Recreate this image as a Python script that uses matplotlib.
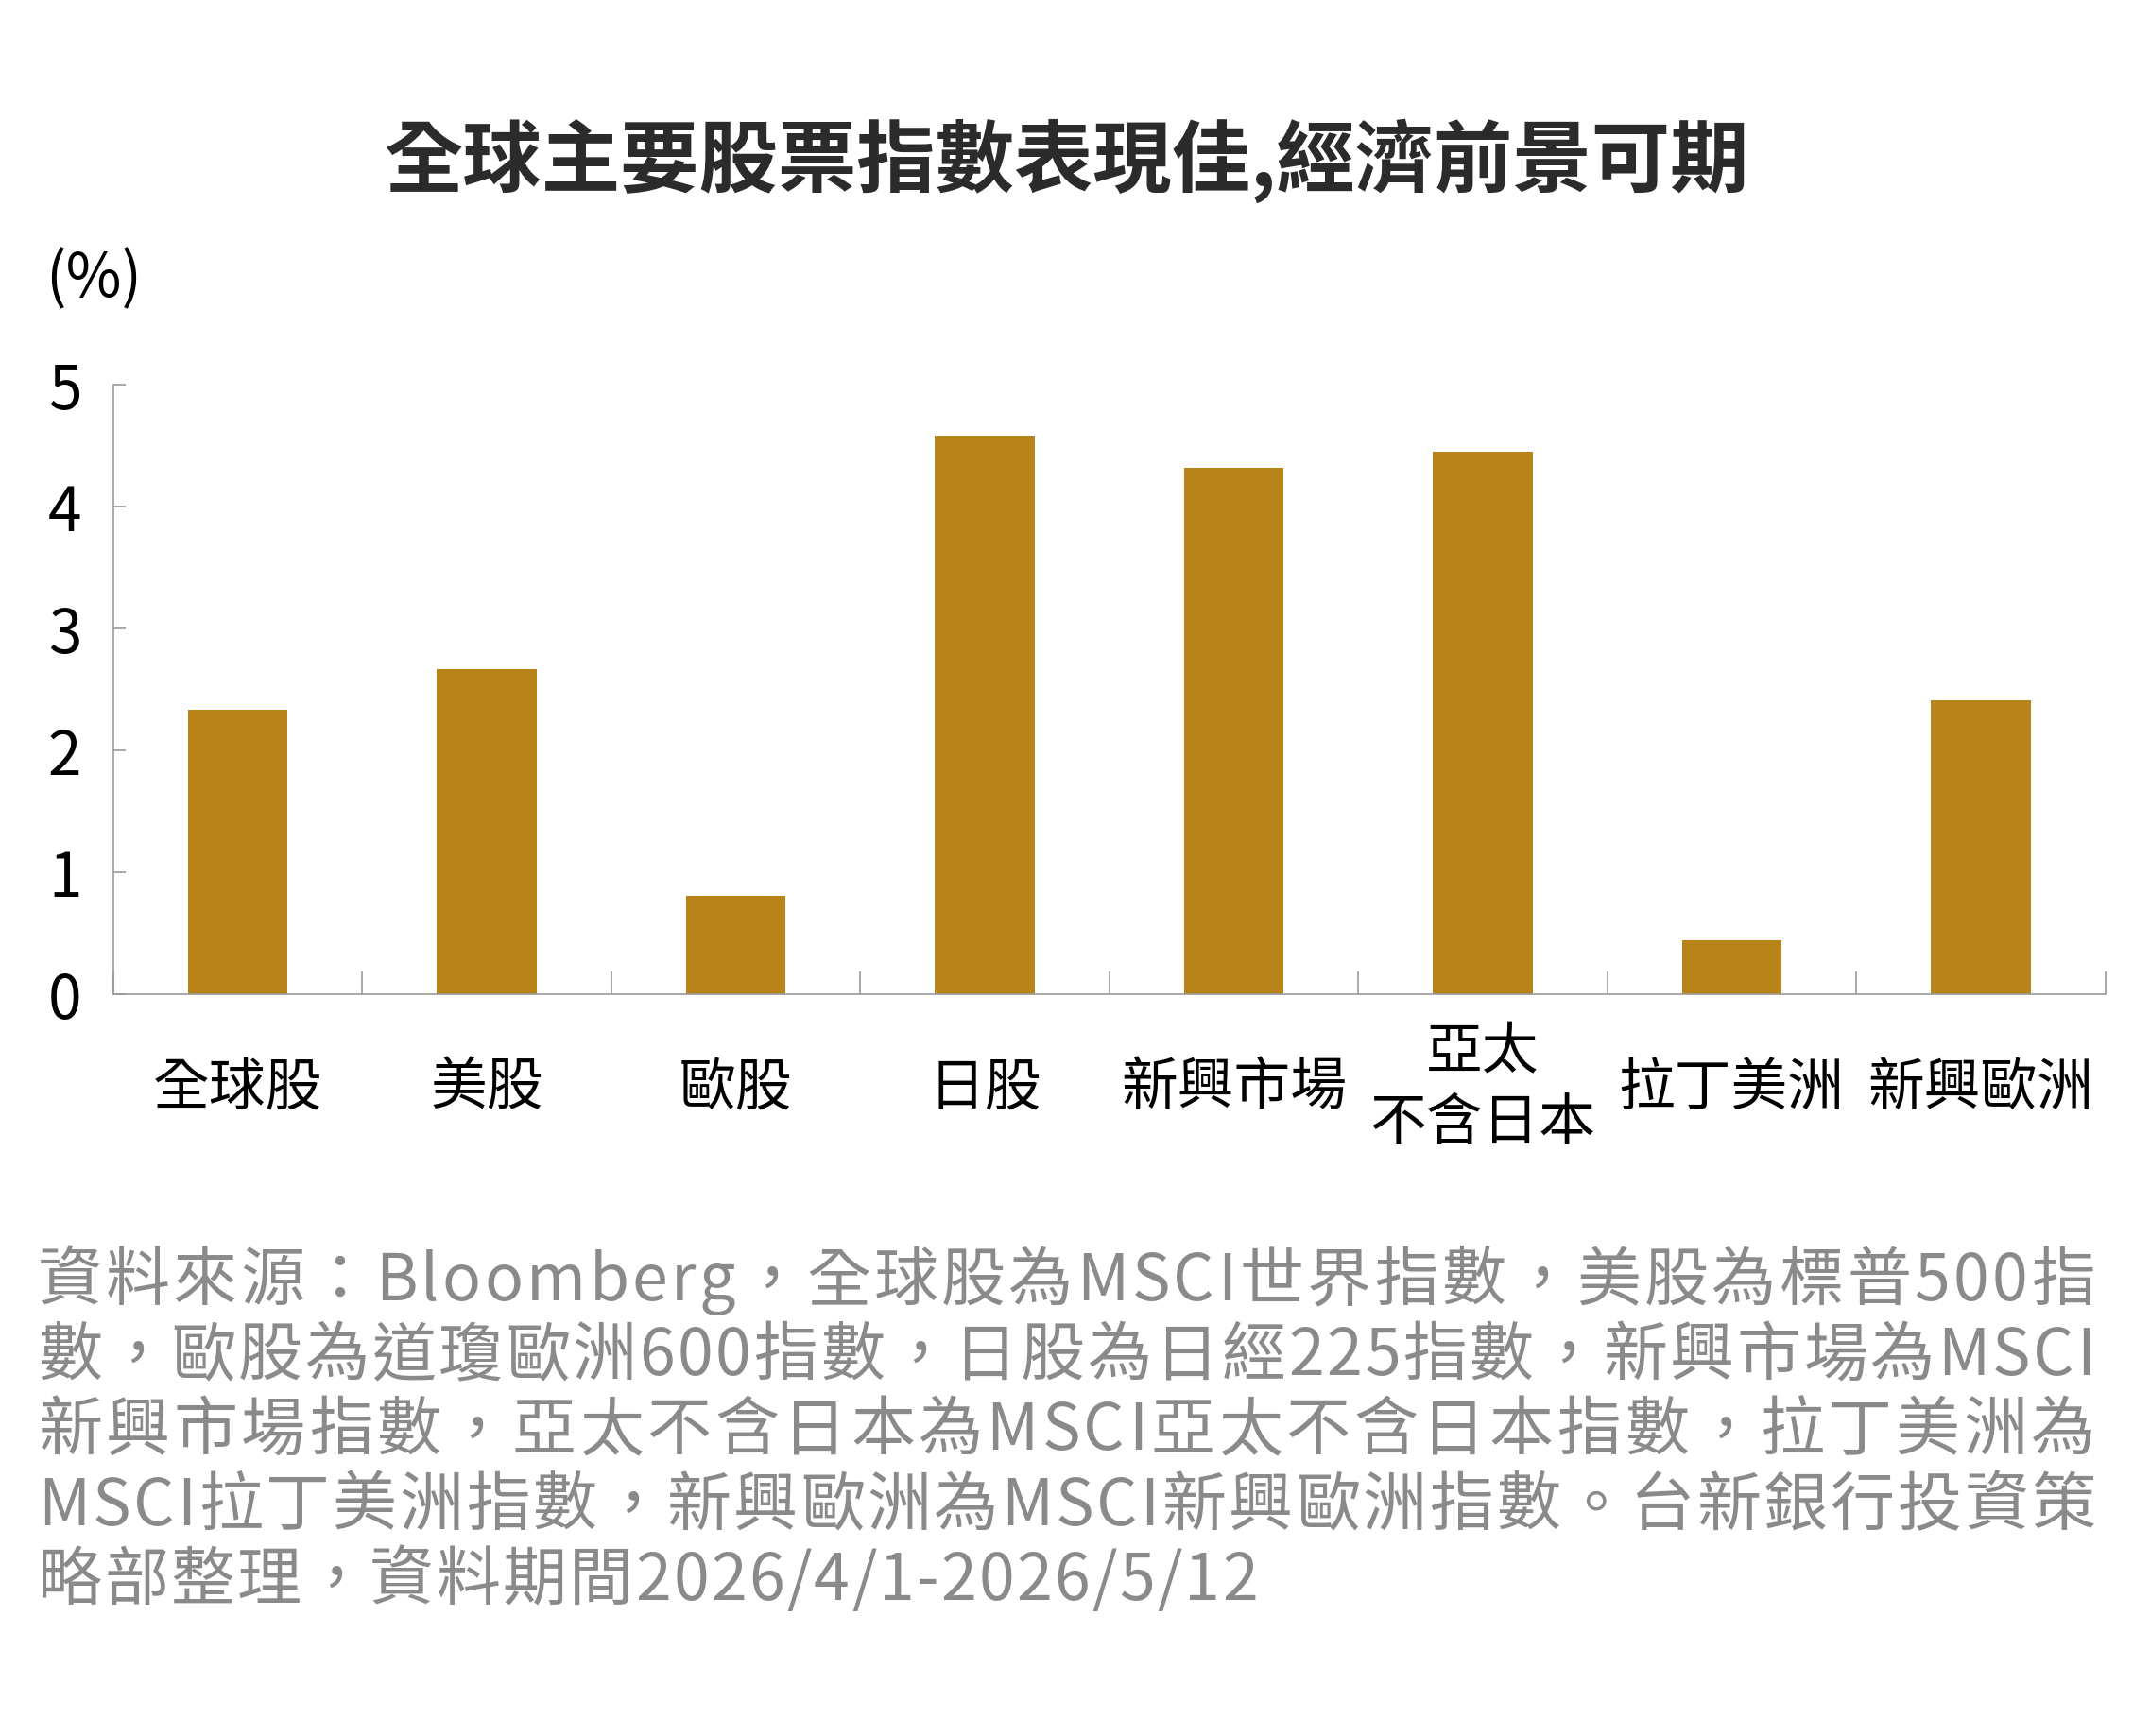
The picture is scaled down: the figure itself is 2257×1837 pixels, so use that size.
import matplotlib
matplotlib.use('Agg')
import matplotlib.pyplot as plt
import numpy as np

plt.rcParams['font.family'] = ['Noto Sans CJK TC', 'DejaVu Sans']

# 資料
categories = ['全球股', '美股', '歐股', '日股', '新興市場', '亞太\n不含日本', '拉丁美洲', '新興歐洲']
values = [2.33, 2.67, 0.81, 4.58, 4.32, 4.45, 0.44, 2.41]
yticks = [0, 1, 2, 3, 4, 5]

title = '全球主要股票指數表現佳,經濟前景可期'
unit = '(%)'
footer_lines = [
    '資料來源：Bloomberg，全球股為MSCI世界指數，美股為標普500指',
    '數，歐股為道瓊歐洲600指數，日股為日經225指數，新興市場為MSCI',
    '新興市場指數，亞太不含日本為MSCI亞太不含日本指數，拉丁美洲為',
    'MSCI拉丁美洲指數，新興歐洲為MSCI新興歐洲指數。台新銀行投資策',
    '略部整理，資料期間2026/4/1-2026/5/12',
]

bar_color = '#b8841a'
axis_color = '#999999'
W, H = 2257, 1837

fig = plt.figure(figsize=(W / 100, H / 100), dpi=100)
ax = fig.add_axes([0.053, 0.4273, 0.934, 0.3511])

x = np.arange(len(categories))
ax.bar(x, values, width=0.4, color=bar_color, zorder=2)

ax.set_xlim(-0.5, len(categories) - 0.5)
ax.set_ylim(0, 5)

# 框線
for s in ['top', 'right']:
    ax.spines[s].set_visible(False)
for s in ['left', 'bottom']:
    ax.spines[s].set_color(axis_color)
    ax.spines[s].set_linewidth(1.2)

# y 軸刻度
ax.set_yticks(yticks)
ax.set_yticklabels([str(v) for v in yticks])
ax.tick_params(axis='y', direction='in', length=9, width=1.2, color=axis_color,
               pad=24, labelsize=46, labelcolor='black')

# x 軸：主刻度在類別分界，次刻度放標籤
ax.set_xticks(np.arange(-0.5, len(categories), 1.0))
ax.set_xticklabels([])
ax.tick_params(axis='x', which='major', direction='in', length=17, width=1.2,
               color=axis_color)
ax.set_xticks(x, minor=True)
ax.set_xticklabels(categories, minor=True)
ax.tick_params(axis='x', which='minor', length=0, pad=72, labelsize=43)
for lab in ax.get_xticklabels(minor=True):
    lab.set_verticalalignment('center')
    lab.set_linespacing(1.3)

# 標題與單位
fig.text(0.5, 0.9075, title, ha='center', va='center', fontsize=60,
         fontweight='bold', color='#2b2b2b')
fig.text(0.0215, 0.839, unit, ha='left', va='center', fontsize=46, color='black')

# 附註（左右對齊，逐字排列）
renderer = fig.canvas.get_renderer()
x_left, x_right = 40, 2217
last_width = 1291
y0 = 1357
for i, line in enumerate(footer_lines):
    y = 1 - (y0 + i * 79.2) / H
    widths = []
    for ch in line:
        t = fig.text(0, 0, ch, fontsize=49)
        widths.append(t.get_window_extent(renderer).width)
        t.remove()
    target = (x_right - x_left) if i < len(footer_lines) - 1 else last_width
    gap = (target - sum(widths)) / (len(line) - 1)
    pos = x_left
    for ch, w in zip(line, widths):
        fig.text(pos / W, y, ch, ha='left', va='center', fontsize=49,
                 color='#8a8a8a')
        pos += w + gap

fig.savefig('out.png', dpi=100, facecolor='white')
